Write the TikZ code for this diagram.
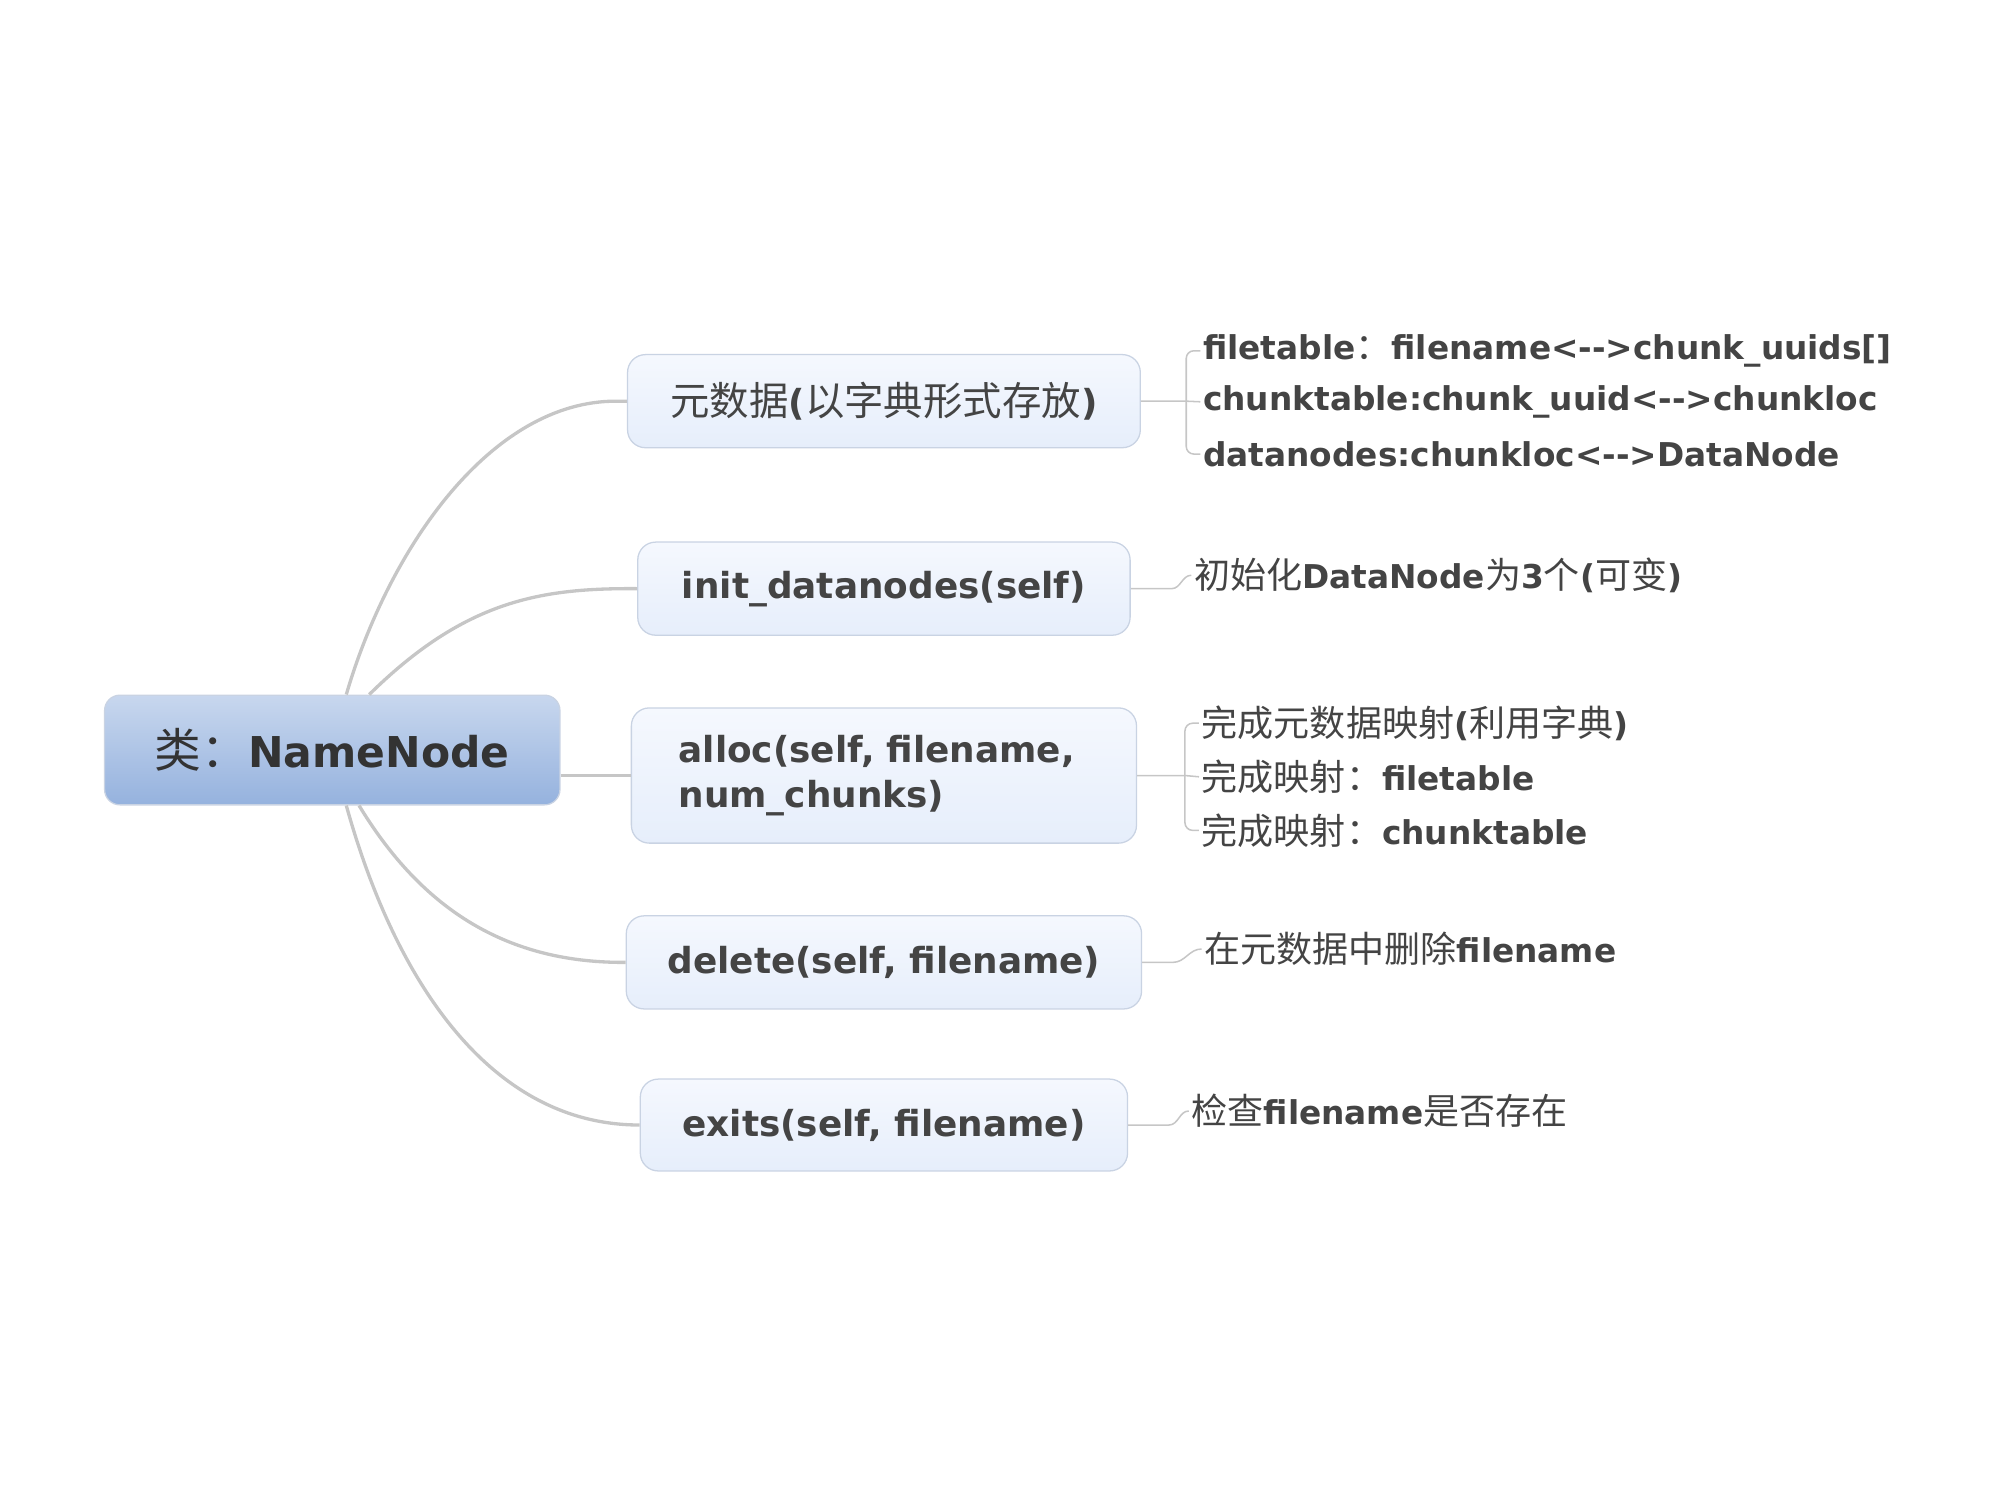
\documentclass[tikz,border=0pt]{standalone}
\usepackage{fontspec}
\setmainfont{DejaVu Sans}
\newfontfamily\cjk[Scale=1.10]{Noto Sans CJK SC}
\newcommand{\zh}[1]{{\cjk\mdseries #1}}
\definecolor{txtgray}{HTML}{444444}
\definecolor{rootgray}{HTML}{333333}
\definecolor{branchgray}{HTML}{C6C6C6}
\definecolor{boxedge}{HTML}{C9D3E3}
\begin{document}
\begin{tikzpicture}[x=1pt, y=-1pt,
    rootbox/.style={draw=boxedge, rounded corners=12pt, top color={rgb,255:red,200;green,215;blue,238},
        bottom color={rgb,255:red,149;green,178;blue,222}, line width=1pt,
        text=rootgray, font=\fontsize{33.3pt}{40pt}\selectfont\bfseries},
    methbox/.style={draw=boxedge, rounded corners=14pt, top color={rgb,255:red,245;green,248;blue,254},
        bottom color={rgb,255:red,230;green,238;blue,251}, line width=1pt,
        text=txtgray, font=\fontsize{28.1pt}{35pt}\selectfont\bfseries},
    leaf/.style={anchor=west, inner sep=2pt, text=txtgray, font=\fontsize{25.7pt}{30pt}\selectfont\bfseries},
    branch/.style={draw=branchgray, line width=2.6pt},
    twig/.style={draw=branchgray, line width=1.2pt}]

    \useasboundingbox (0,0) rectangle (1568,1176);

    % Root
    \node[rootbox, minimum width=357pt, minimum height=86pt] (root) at (260.5,588) {\zh{类：}NameNode};

    % Methods
    \node[methbox, minimum width=402pt, minimum height=73pt] (meta) at (693,314.5) {\zh{元数据}(\zh{以字典形式存放})};
    \node[methbox, minimum width=386pt, minimum height=73pt] (init) at (693,461.5) {init\_datanodes(self)};
    \node[methbox, minimum height=106pt, inner xsep=37pt, text width=322pt, align=left] (alloc) at (693,608) {alloc(self, filename,\\num\_chunks)};
    \node[methbox, minimum width=404pt, minimum height=73pt] (del) at (693,754.5) {delete(self, filename)};
    \node[methbox, minimum width=382pt, minimum height=72pt] (exits) at (693,882) {exits(self, filename)};

    % Branches from root
    \draw[branch] ([xshift=11pt]root.north) .. controls (305,430) and (385,314) .. ([xshift=-8pt]meta.west) -- (meta.west);
    \draw[branch] ([xshift=29pt]root.north) .. controls (365,470) and (425,461) .. (init.west);
    \draw[branch] (root.east |- alloc.west) -- (alloc.west);
    \draw[branch] ([xshift=21pt]root.south) .. controls (335,720) and (405,755) .. (del.west);
    \draw[branch] ([xshift=11pt]root.south) .. controls (310,770) and (385,882) .. (exits.west);

    % Leaves of meta
    \node[leaf] (ft) at (941,275) {filetable\zh{：}filename<-{}->chunk\_uuids[]};
    \node[leaf] (ct) at (941,315) {chunktable:chunk\_uuid<-{}->chunkloc};
    \node[leaf] (dn) at (941,356) {datanodes:chunkloc<-{}->DataNode};
    \coordinate (b1) at (930,314.5);
    \draw[twig] (meta.east) -- (b1) -- (ct.west);
    \draw[twig, rounded corners=6pt] (ft.west) -| (b1) |- (dn.west);

    % Leaf of init
    \node[leaf] (dn3) at (934,451) {\zh{初始化}DataNode\zh{为}3\zh{个}(\zh{可变})};
    \draw[twig] (init.east) -- ++(32,0) to[out=0,in=180] (dn3.west);

    % Leaves of alloc
    \node[leaf] (m1) at (940,567) {\zh{完成元数据映射}(\zh{利用字典})};
    \node[leaf] (m2) at (940,609) {\zh{完成映射：}filetable};
    \node[leaf] (m3) at (940,651) {\zh{完成映射：}chunktable};
    \coordinate (b3) at (929,608);
    \draw[twig] (alloc.east) -- (b3) -- (m2.west);
    \draw[twig, rounded corners=6pt] (m1.west) -| (b3) |- (m3.west);

    % Leaf of delete
    \node[leaf] (rm) at (942,744) {\zh{在元数据中删除}filename};
    \draw[twig] (del.east) -- ++(24,0) to[out=0,in=180] (rm.west);

    % Leaf of exits
    \node[leaf] (chk) at (932,871) {\zh{检查}filename\zh{是否存在}};
    \draw[twig] (exits.east) -- ++(32,0) to[out=0,in=180] (chk.west);
\end{tikzpicture}
\end{document}
